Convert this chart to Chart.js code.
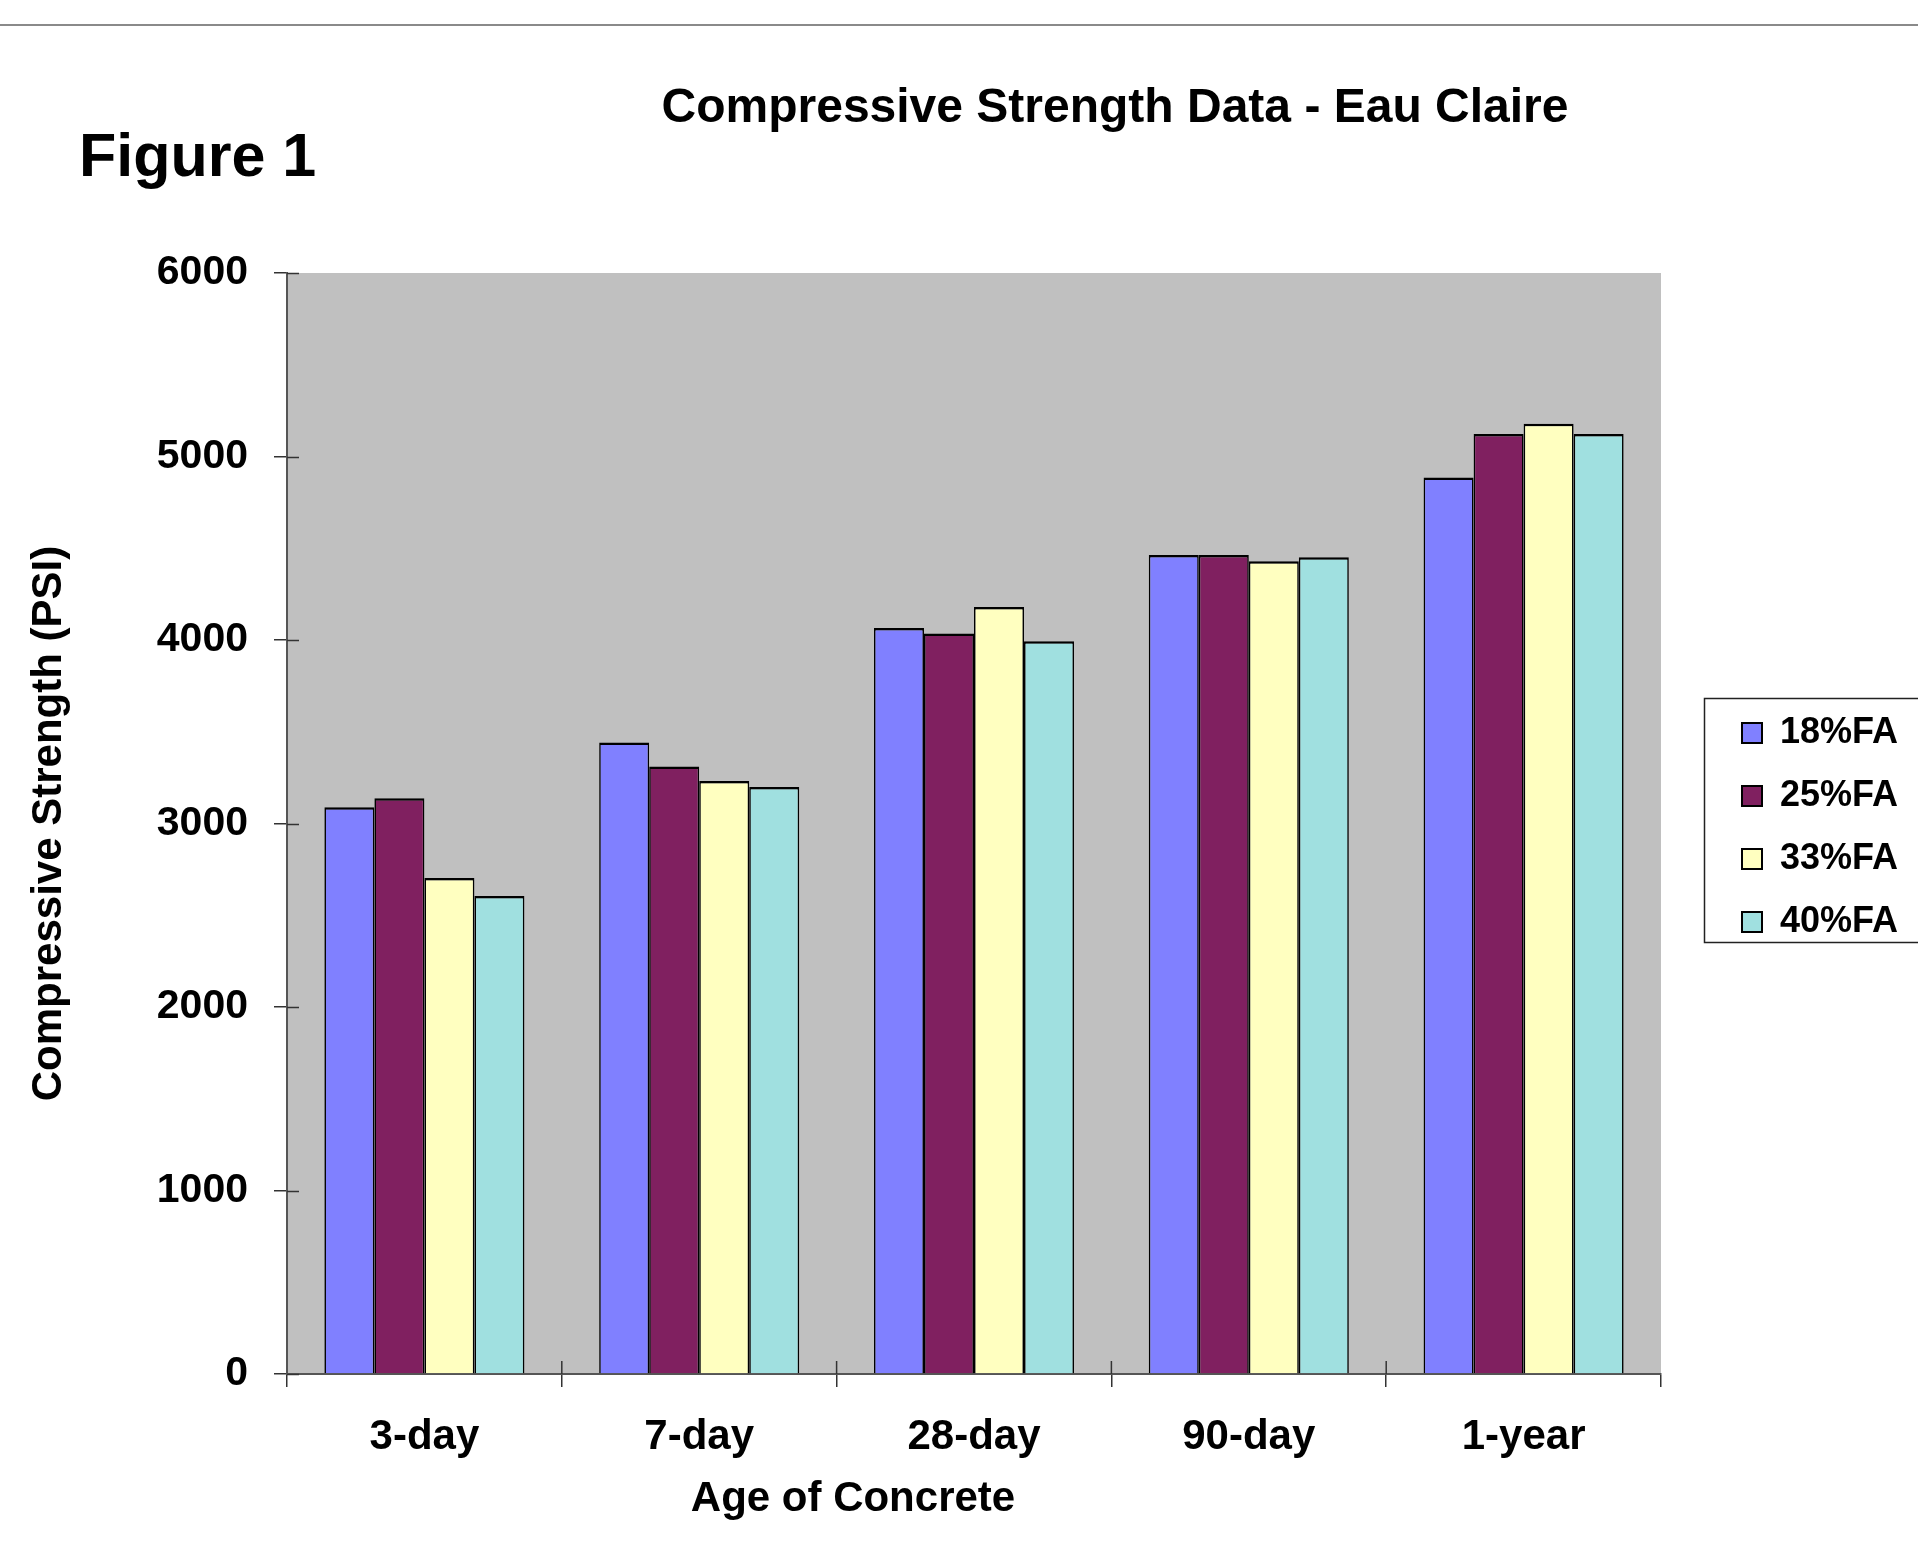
<!DOCTYPE html>
<html>
<head>
<meta charset="utf-8">
<script src="https://cdn.jsdelivr.net/npm/chart.js@4.4.1/dist/chart.umd.min.js"></script>
<style>
  html, body { margin: 0; padding: 0; background: #ffffff; }
  #wrap { width: 1918px; height: 1549px; position: relative; }
  canvas { display: block; }
</style>
</head>
<body>
<div id="wrap"><canvas id="c" width="1918" height="1549"></canvas></div>
<script>
// ---- data ----
const categories = ['3-day', '7-day', '28-day', '90-day', '1-year'];
const seriesNames = ['18%FA', '25%FA', '33%FA', '40%FA'];
const fa18 = [3088, 3442, 4065, 4463, 4885];
const fa25 = [3137, 3310, 4036, 4463, 5123];
const fa33 = [2703, 3232, 4180, 4429, 5179];
const fa40 = [2605, 3199, 3993, 4451, 5123];
const yTicks = [0, 1000, 2000, 3000, 4000, 5000, 6000];
const chartTitle = 'Compressive Strength Data - Eau Claire';
const figureLabel = 'Figure 1';
const xAxisTitle = 'Age of Concrete';
const yAxisTitle = 'Compressive Strength (PSI)';

const FONT = "'Liberation Sans', Arial, Helvetica, sans-serif";
const colors = ['#8080FF', '#802060', '#FFFFC0', '#A0E0E0'];
const seriesValues = [fa18, fa25, fa33, fa40];

const datasets = seriesValues.map((vals, i) => ({
  label: seriesNames[i],
  data: vals,
  backgroundColor: colors[i],
  borderColor: '#000000',
  borderWidth: { top: 2.5, left: 1.6, right: 1.6, bottom: 0 },
  borderSkipped: 'start',
  categoryPercentage: 0.728,
  barPercentage: 1.0
}));

const decorPlugin = {
  id: 'decor',
  beforeDraw(chart) {
    const { ctx, chartArea: a } = chart;
    ctx.save();
    ctx.fillStyle = '#C0C0C0';
    ctx.fillRect(a.left, a.top, a.right - a.left, a.bottom - a.top);
    ctx.restore();
  },
  afterDraw(chart) {
    const { ctx, chartArea: a } = chart;
    const xs = chart.scales.x, ys = chart.scales.y;
    ctx.save();
    // top rule
    ctx.strokeStyle = '#8a8a8a';
    ctx.lineWidth = 2;
    ctx.beginPath(); ctx.moveTo(0, 25); ctx.lineTo(chart.width, 25); ctx.stroke();
    // inner tick parts
    ctx.strokeStyle = '#333333';
    ctx.lineWidth = 1.5;
    yTicks.forEach(v => {
      const py = Math.round(ys.getPixelForValue(v)) + 0.5;
      ctx.beginPath(); ctx.moveTo(a.left, py); ctx.lineTo(a.left + 12, py); ctx.stroke();
    });
    for (let i = 1; i < categories.length; i++) {
      const px = (xs.getPixelForValue(i - 1) + xs.getPixelForValue(i)) / 2;
      ctx.beginPath(); ctx.moveTo(px, a.bottom - 13); ctx.lineTo(px, a.bottom); ctx.stroke();
    }
    // texts
    ctx.fillStyle = '#000000';
    ctx.textBaseline = 'alphabetic';
    ctx.font = 'bold 61px ' + FONT;
    ctx.textAlign = 'left';
    ctx.fillText(figureLabel, 79, 176);
    ctx.font = 'bold 48px ' + FONT;
    ctx.textAlign = 'center';
    ctx.fillText(chartTitle, 1115, 122);
    ctx.font = 'bold 42px ' + FONT;
    ctx.fillText(xAxisTitle, 853, 1511);
    // legend frame
    ctx.strokeStyle = '#222222';
    ctx.lineWidth = 1.5;
    ctx.strokeRect(1704.5, 698.5, 260, 244);
    ctx.restore();
  }
};

new Chart(document.getElementById('c'), {
  type: 'bar',
  data: { labels: categories, datasets },
  plugins: [decorPlugin],
  options: {
    responsive: false,
    animation: false,
    devicePixelRatio: 1,
    layout: { padding: { top: 273, right: 13, bottom: 0, left: 0 } },
    plugins: {
      title: { display: false },
      tooltip: { enabled: false },
      legend: {
        display: true,
        position: 'right',
        fullSize: false,
        align: 'center',
        maxWidth: 190,
        title: {
          display: true,
          text: ' ',
          font: { size: 1, lineHeight: 1 },
          padding: { top: 0, bottom: 7 }
        },
        labels: {
          color: '#000000',
          font: { family: FONT, size: 36, weight: 'bold' },
          boxWidth: 20,
          boxHeight: 20,
          padding: 27,
          generateLabels(chart) {
            return Chart.defaults.plugins.legend.labels.generateLabels(chart)
              .map(l => Object.assign(l, { lineWidth: 2, strokeStyle: '#000000' }));
          }
        }
      }
    },
    scales: {
      x: {
        type: 'category',
        grid: {
          display: true,
          offset: true,
          drawOnChartArea: false,
          drawTicks: true,
          tickLength: 13,
          color: '#333333',
          lineWidth: 1.5
        },
        border: { display: true, color: '#555555', width: 2 },
        ticks: {
          color: '#000000',
          font: { family: FONT, size: 42, weight: 'bold' },
          padding: 25,
          maxRotation: 0,
          autoSkip: false
        },
        afterFit(scale) { scale.height = 175; }
      },
      y: {
        type: 'linear',
        position: 'left',
        min: 0,
        max: 6000,
        afterBuildTicks(scale) { scale.ticks = yTicks.map(v => ({ value: v })); },
        grid: {
          display: true,
          drawOnChartArea: false,
          drawTicks: true,
          tickLength: 13,
          color: '#333333',
          lineWidth: 1.5
        },
        border: { display: true, color: '#555555', width: 2 },
        ticks: {
          color: '#000000',
          font: { family: FONT, size: 41, weight: 'bold' },
          padding: 26,
          callback: v => String(v)
        },
        title: {
          display: true,
          text: yAxisTitle,
          color: '#000000',
          font: { family: FONT, size: 42, weight: 'bold' },
          padding: { top: 24, bottom: 0 }
        },
        afterFit(scale) { scale.width = 287; }
      },
      y2: {
        type: 'linear',
        position: 'right',
        display: true,
        grid: { display: false, drawTicks: false },
        border: { display: false },
        ticks: { display: false },
        afterFit(scale) { scale.width = 54; }
      }
    }
  }
});
</script>
</body>
</html>
